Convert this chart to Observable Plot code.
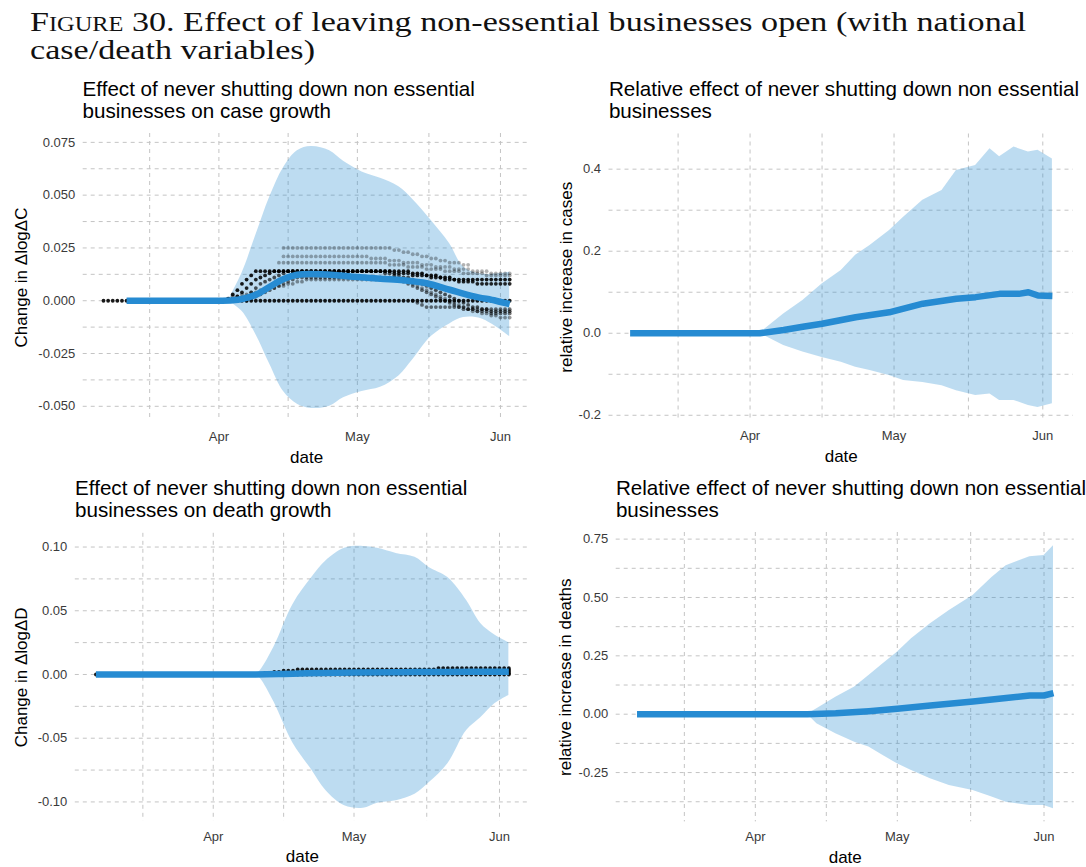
<!DOCTYPE html>
<html><head><meta charset="utf-8">
<script src="https://cdn.jsdelivr.net/npm/d3@7"></script>
<script src="https://cdn.jsdelivr.net/npm/@observablehq/plot@0.6"></script>
<style>
html,body{margin:0;padding:0;background:#fff;}
body{width:1086px;height:867px;overflow:hidden;position:relative;font-family:"Liberation Sans",Arial,sans-serif;}
#figtitle{position:absolute;left:30px;top:7.6px;font-family:"Liberation Serif",serif;font-size:28px;line-height:28px;color:#111;white-space:nowrap;transform:scaleX(1.218);transform-origin:0 0;}
.ptitle{position:absolute;font-size:20.6px;line-height:22.3px;color:#000;white-space:nowrap;}
.panel{position:absolute;}
</style></head><body>
<div id="figtitle"><span style="font-variant:small-caps">Figure 30.</span> Effect of leaving non-essential businesses open (with national<br>case/death variables)</div>
<div class="ptitle" style="left:82.6px;top:77.5px">Effect of never shutting down non essential<br>businesses on case growth</div>
<div class="ptitle" style="left:608.9px;top:77.5px">Relative effect of never shutting down non essential<br>businesses</div>
<div class="ptitle" style="left:75.1px;top:476.5px">Effect of never shutting down non essential<br>businesses on death growth</div>
<div class="ptitle" style="left:615.9px;top:476.5px">Relative effect of never shutting down non essential<br>businesses</div>
<script>
// ---------- axis breaks ----------
const majorDates = ["2020-04-01", "2020-05-01", "2020-06-01"];
const minorDates = ["2020-03-17T00:00:00Z", "2020-04-16T00:00:00Z", "2020-05-16T12:00:00Z"];
const dataStart = "2020-03-07";
const dataEnd = "2020-06-03";

const yTicks1 = [-0.05, -0.025, 0, 0.025, 0.05, 0.075];
const yMinor1 = [-0.0375, -0.0125, 0.0125, 0.0375, 0.0625];
const yTicks2 = [-0.2, 0, 0.2, 0.4];
const yMinor2 = [-0.1, 0.1, 0.3];
const yTicks3 = [-0.1, -0.05, 0, 0.05, 0.1];
const yMinor3 = [-0.075, -0.025, 0.025, 0.075];
const yTicks4 = [-0.25, 0, 0.25, 0.5, 0.75];
const yMinor4 = [-0.375, -0.125, 0.125, 0.375, 0.625];

// ---------- panel 1: case growth ----------
const band1Dates = ["2020-04-03","2020-04-06","2020-04-09","2020-04-12","2020-04-15","2020-04-18","2020-04-21","2020-04-25","2020-04-28","2020-05-02","2020-05-06","2020-05-10","2020-05-13","2020-05-17","2020-05-21","2020-05-24","2020-05-28","2020-06-03"];
const upper1 = [0.000, 0.013, 0.031, 0.049, 0.063, 0.071, 0.073, 0.071, 0.066, 0.061, 0.058, 0.054, 0.048, 0.038, 0.027, 0.016, 0.0126, 0.0135];
const lower1 = [0.000, -0.005, -0.016, -0.030, -0.043, -0.049, -0.051, -0.050, -0.046, -0.043, -0.041, -0.0356, -0.028, -0.017, -0.011, -0.008, -0.0087, -0.017];
const mean1Dates = ["2020-03-12","2020-04-01","2020-04-04","2020-04-06","2020-04-09","2020-04-12","2020-04-15","2020-04-18","2020-04-21","2020-04-26","2020-05-01","2020-05-06","2020-05-11","2020-05-16","2020-05-21","2020-05-26","2020-05-31","2020-06-03"];
const mean1 = [0, 0, 0.0002, 0.0008, 0.0028, 0.0066, 0.0103, 0.0123, 0.0127, 0.0122, 0.0112, 0.0104, 0.0097, 0.0083, 0.0052, 0.0022, 0.0000, -0.0016];

// daily simulated trajectories (one value per day from the start date)
const zeroTrack = [0,0,0,0,0,0,0,0,0,0,0,0,0,0,0,0,0,0,0,0,0,0,0,0,0,0,0,0,0,0,0,0,0,0,0,0,0,0,0,0,0,0,0,0,0,0,0,0,0,0,0,0,0,0,0,0,0,0,0,0,0,0,0,0,0,0,0,0,0,0,0,0,0,0,0,0,0,0,0,0,0,0,0,0,0,0,0,0,0];
const trackA = [0.000,0.001,0.003,0.005,0.008,0.010,0.012,0.014,
0.014,0.014,0.014,0.014,0.014,0.014,0.014,0.014,
0.014,0.014,0.014,0.014,0.014,0.014,0.014,0.014,
0.014,0.014,0.014,0.014,0.014,0.014,0.014,0.014,
0.014,0.014,0.014,0.014,0.014,0.014,0.014,0.014,
0.014,0.013,0.013,0.013,0.012,0.012,0.012,0.011,
0.011,0.011,0.010,0.010,0.010,0.010,0.010,0.010,
0.010,0.010,0.010,0.010,0.010,0.010,0.010];
const trackB = [0.001,0.002,0.004,0.006,0.008,0.010,0.011,0.012,
0.013,0.014,0.014,0.014,0.014,0.014,0.014,0.014,
0.014,0.014,0.014,0.014,0.014,0.014,0.014,0.014,
0.014,0.014,0.014,0.014,0.014,0.014,0.014,0.014,
0.014,0.014,0.014,0.013,0.013,0.013,0.013,0.012,
0.012,0.012,0.012,0.011,0.011,0.011,0.010,0.010,
0.010,0.009,0.009,0.009,0.009,0.008,0.008,0.008,
0.008,0.008,0.008,0.008,0.008];
const trackC = [0.001,0.002,0.004,0.006,0.008,0.009,0.010,0.011,
0.012,0.013,0.014,0.014,0.014,0.014,0.014,0.014,
0.014,0.014,0.014,0.014,0.014,0.014,0.014,0.014,
0.014,0.014,0.014,0.014,0.014,0.014,0.014,0.013,
0.013,0.012,0.012,0.011,0.011,0.010,0.009,0.008,
0.007,0.006,0.005,0.004,0.003,0.002,0.001,0.000,
-0.001,-0.002,-0.003,-0.003,-0.004,-0.004,-0.005,-0.005,
-0.005,-0.005,-0.005];
const trackD = [0.000,0.001,0.002,0.003,0.004,0.005,0.006,0.007,
0.008,0.009,0.010,0.011,0.011,0.011,0.011,0.011,
0.011,0.011,0.011,0.011,0.011,0.011,0.011,0.011,
0.011,0.011,0.011,0.011,0.011,0.011,0.011,0.011,
0.011,0.010,0.009,0.008,0.007,0.006,0.005,0.004,
0.003,0.002,0.001,0.000,-0.001,-0.002,-0.003,-0.003,
-0.004,-0.004,-0.005,-0.005,-0.005,-0.006,-0.006,-0.006,
-0.006,-0.006];
const trackE = [0.025,0.025,0.025,0.025,0.025,0.025,0.025,0.025,
0.025,0.025,0.025,0.025,0.025,0.025,0.025,0.025,
0.025,0.025,0.025,0.025,0.025,0.025,0.025,0.025,
0.024,0.024,0.023,0.023,0.022,0.022,0.021,0.021,
0.020,0.020,0.019,0.019,0.018,0.018,0.018,0.017,
0.017];
const trackF = [0.021,0.021,0.021,0.021,0.021,0.021,0.021,0.021,
0.021,0.021,0.021,0.021,0.021,0.021,0.021,0.021,
0.021,0.021,0.021,0.020,0.020,0.020,0.020,0.019,
0.019,0.019,0.018,0.018,0.018,0.018,0.017,0.017,
0.017,0.016,0.016,0.016,0.016,0.015,0.015,0.015,
0.015,0.014,0.014,0.014,0.014,0.013,0.013,0.013,
0.013,0.013];
const trackG = [0.018,0.018,0.018,0.018,0.018,0.018,0.018,0.018,
0.018,0.018,0.018,0.018,0.018,0.018,0.018,0.018,
0.018,0.018,0.018,0.018,0.018,0.018,0.018,0.018,
0.017,0.017,0.017,0.017,0.016,0.016,0.016,0.016,
0.015,0.015,0.015,0.015,0.014,0.014,0.014,0.014,
0.013,0.013,0.013,0.013,0.013,0.012,0.012,0.012,
0.012,0.012,0.012];
const trackH = [0.001,0.002,0.002,0.003,0.003,0.004,0.004,0.005,
0.005,0.006,0.006,0.007,0.007,0.008,0.008,0.009,
0.009,0.010,0.010,0.010,0.010,0.010,0.010,0.010,
0.010,0.010,0.010,0.010,0.010,0.010,0.010,0.010,
0.010,0.010,0.010,0.010,0.010,0.010,0.010,0.009,
0.008,0.007,0.006,0.005,0.004,0.003,0.002,0.001,
0.000,-0.001,-0.002,-0.003,-0.004,-0.005,-0.005,-0.006,
-0.006,-0.007,-0.007,-0.008,-0.008,-0.008];
const trackI = [0.000,-0.001,-0.002,-0.003,-0.003,-0.003,-0.003,-0.003,
-0.003,-0.003,-0.003,-0.004,-0.004,-0.004,-0.004,-0.004,
-0.004,-0.004,-0.004,-0.004,-0.004,-0.004];

const tracks1 = [
  {start: "2020-03-07", values: zeroTrack, opacity: 0.9},
  {start: "2020-04-02", values: trackA, opacity: 0.9},
  {start: "2020-04-04", values: trackB, opacity: 0.85},
  {start: "2020-04-06", values: trackC, opacity: 0.65},
  {start: "2020-04-07", values: trackD, opacity: 0.55},
  {start: "2020-04-15", values: trackE, opacity: 0.3},
  {start: "2020-04-15", values: trackF, opacity: 0.3},
  {start: "2020-04-14", values: trackG, opacity: 0.33},
  {start: "2020-04-03", values: trackH, opacity: 0.4},
  {start: "2020-05-13", values: trackI, opacity: 0.55}
];

// ---------- panel 2: relative increase in cases ----------
const band2Dates = ["2020-04-03","2020-04-08","2020-04-12","2020-04-16","2020-04-20","2020-04-23","2020-04-26","2020-04-30","2020-05-03","2020-05-07","2020-05-11","2020-05-14","2020-05-18","2020-05-21","2020-05-23","2020-05-26","2020-05-29","2020-05-31","2020-06-03"];
const upper2 = [0.000, 0.047, 0.080, 0.120, 0.153, 0.190, 0.214, 0.250, 0.283, 0.324, 0.348, 0.397, 0.409, 0.450, 0.430, 0.454, 0.442, 0.446, 0.425];
const lower2 = [0.000, -0.030, -0.046, -0.059, -0.071, -0.083, -0.091, -0.103, -0.115, -0.120, -0.128, -0.140, -0.152, -0.148, -0.164, -0.164, -0.176, -0.181, -0.172];
const mean2Dates = ["2020-03-07","2020-04-03","2020-04-08","2020-04-12","2020-04-16","2020-04-23","2020-04-30","2020-05-07","2020-05-14","2020-05-18","2020-05-23","2020-05-27","2020-05-29","2020-05-31","2020-06-03"];
const mean2 = [0, 0, 0.008, 0.016, 0.023, 0.039, 0.051, 0.072, 0.084, 0.088, 0.096, 0.096, 0.100, 0.092, 0.091];

// ---------- panel 3: death growth ----------
const band3Dates = ["2020-04-10","2020-04-11","2020-04-14","2020-04-18","2020-04-22","2020-04-25","2020-04-29","2020-05-03","2020-05-06","2020-05-10","2020-05-14","2020-05-17","2020-05-21","2020-05-25","2020-05-28","2020-05-31","2020-06-03"];
const upper3 = [0.000, 0.003, 0.022, 0.055, 0.076, 0.089, 0.099, 0.1005, 0.099, 0.095, 0.092, 0.084, 0.076, 0.058, 0.040, 0.031, 0.025];
const lower3 = [0.000, -0.003, -0.022, -0.054, -0.075, -0.091, -0.103, -0.105, -0.101, -0.099, -0.094, -0.085, -0.070, -0.044, -0.034, -0.023, -0.0165];
const mean3Dates = ["2020-03-07","2020-04-10","2020-04-16","2020-04-21","2020-05-01","2020-05-11","2020-05-21","2020-06-03"];
const mean3 = [0, 0, 0.0004, 0.0009, 0.0015, 0.0018, 0.0020, 0.0022];
const trackU3 = [0.000,0.001,0.001,0.002,0.002,0.003,0.003,0.003,
0.004,0.004,0.004,0.004,0.004,0.004,0.004,0.004,
0.004,0.004,0.004,0.004,0.004,0.004,0.004,0.004,
0.004,0.004,0.004,0.004,0.004,0.004,0.004,0.004,
0.004,0.004,0.004,0.004,0.004,0.004,0.005,0.005,
0.005,0.005,0.005,0.005,0.005,0.005,0.005,0.005,
0.005,0.005,0.005,0.005,0.005,0.005];
const lastDay3 = [0.001, 0.002, 0.003, 0.004];
const tracks3 = [
  {start: "2020-03-07", values: zeroTrack, opacity: 0.9},
  {start: "2020-04-11", values: trackU3, opacity: 0.9},
  {start: "2020-06-03", values: lastDay3, opacity: 0.9, sameDay: true}
];

// ---------- panel 4: relative increase in deaths ----------
const band4Dates = ["2020-04-12","2020-04-14","2020-04-18","2020-04-22","2020-04-25","2020-04-28","2020-05-01","2020-05-04","2020-05-08","2020-05-12","2020-05-17","2020-05-21","2020-05-24","2020-05-29","2020-06-01","2020-06-03"];
const upper4 = [0.000, 0.023, 0.073, 0.116, 0.166, 0.216, 0.265, 0.323, 0.387, 0.444, 0.508, 0.586, 0.636, 0.675, 0.680, 0.722];
const lower4 = [0.000, -0.041, -0.084, -0.120, -0.141, -0.177, -0.212, -0.241, -0.276, -0.305, -0.327, -0.355, -0.377, -0.391, -0.391, -0.405];
const mean4Dates = ["2020-03-07","2020-04-12","2020-04-18","2020-04-25","2020-05-01","2020-05-08","2020-05-17","2020-05-24","2020-05-29","2020-06-01","2020-06-03"];
const mean4 = [0, 0, 0.004, 0.013, 0.023, 0.037, 0.054, 0.069, 0.080, 0.080, 0.090];

// ---------- helpers ----------
const BLUE = "#268bd2";
const GRID = "#c4c4c4";
const toDate = s => new Date(s.length === 10 ? s + "T00:00:00Z" : s);
const bandRows = (dates, lo, hi) => dates.map((d, i) => ({date: toDate(d), lo: lo[i], hi: hi[i]}));
const lineRows = (dates, v) => dates.map((d, i) => ({date: toDate(d), v: v[i]}));
const trackRows = (t) => t.values.map((v, i) => ({date: t.sameDay ? toDate(t.start) : d3.utcDay.offset(toDate(t.start), i), v}));

function xDomainPadded() {
  const a = toDate(dataStart), b = toDate(dataEnd);
  const pad = (b - a) * 0.05;
  return [new Date(+a - pad), new Date(+b + pad)];
}
function yDomainPadded(lo, hi) {
  const mn = d3.min(lo), mx = d3.max(hi);
  const pad = (mx - mn) * 0.05;
  return [mn - pad, mx + pad];
}

function panel(cfg) {
  const {left, top, width, height, x0, x1, y0, y1} = cfg;
  const marks = [
    Plot.ruleX([...majorDates, ...minorDates].map(toDate), {stroke: GRID, strokeDasharray: "4,4", strokeWidth: 1}),
    Plot.ruleY([...cfg.yTicks, ...cfg.yMinor], {stroke: GRID, strokeDasharray: "4,4", strokeWidth: 1}),
    Plot.areaY(cfg.band, {x: "date", y1: "lo", y2: "hi", fill: BLUE, fillOpacity: 0.3, curve: cfg.curve})
  ];
  for (const t of (cfg.tracks || [])) {
    marks.push(Plot.dot(trackRows(t), {x: "date", y: "v", r: 1.9, fill: "#000", fillOpacity: t.opacity}));
  }
  marks.push(
    Plot.line(cfg.mean, {x: "date", y: "v", stroke: BLUE, strokeWidth: 6.5, strokeLinecap: "butt", curve: cfg.curve}),
    Plot.axisX({ticks: majorDates.map(toDate), tickFormat: d3.utcFormat("%b"), tickSize: 0, tickPadding: 10, label: null}),
    Plot.axisY({ticks: cfg.yTicks, tickFormat: d => d.toFixed(cfg.digits), tickSize: 0, tickPadding: 8, label: null}),
    Plot.text(["date"], {frameAnchor: "bottom", textAnchor: "middle", dy: 41, lineAnchor: "bottom", fontSize: 17, fill: "#000"}),
    Plot.text([cfg.ylabel], {frameAnchor: "left", textAnchor: "middle", lineAnchor: "middle", rotate: -90, dx: cfg.ylabelX - x0, fontSize: 17, fill: "#000"})
  );
  const svg = Plot.plot({
    width, height,
    marginLeft: x0 - left, marginRight: left + width - x1,
    marginTop: y0 - top, marginBottom: top + height - y1,
    style: {fontFamily: "'Liberation Sans', Arial, sans-serif", fontSize: "13px", color: "#3a3a3a", background: "transparent", overflow: "visible"},
    x: {type: "utc", domain: xDomainPadded()},
    y: {domain: yDomainPadded(cfg.lowerVals, cfg.upperVals)},
    marks
  });
  svg.classList.add("panel");
  svg.style.left = left + "px";
  svg.style.top = top + "px";
  document.body.appendChild(svg);
}

panel({left: 0, top: 125, width: 540, height: 345, x0: 82.7, x1: 529.5, y0: 133, y1: 421,
  band: bandRows(band1Dates, lower1, upper1), lowerVals: lower1, upperVals: upper1,
  mean: lineRows(mean1Dates, mean1), tracks: tracks1, curve: "catmull-rom",
  yTicks: yTicks1, yMinor: yMinor1, digits: 3, ylabel: "Change in \u0394log\u0394C", ylabelX: 21});
panel({left: 540, top: 125, width: 546, height: 345, x0: 608.5, x1: 1073, y0: 133.5, y1: 420,
  band: bandRows(band2Dates, lower2, upper2), lowerVals: lower2, upperVals: upper2,
  mean: lineRows(mean2Dates, mean2), curve: "linear",
  yTicks: yTicks2, yMinor: yMinor2, digits: 1, ylabel: "relative increase in cases", ylabelX: 565.6});
panel({left: 0, top: 525, width: 540, height: 342, x0: 74.8, x1: 529, y0: 532.8, y1: 820.9,
  band: bandRows(band3Dates, lower3, upper3), lowerVals: lower3, upperVals: upper3,
  mean: lineRows(mean3Dates, mean3), tracks: tracks3, curve: "catmull-rom",
  yTicks: yTicks3, yMinor: yMinor3, digits: 2, ylabel: "Change in \u0394log\u0394D", ylabelX: 21});
panel({left: 540, top: 525, width: 546, height: 342, x0: 615.7, x1: 1073.8, y0: 532, y1: 821.4,
  band: bandRows(band4Dates, lower4, upper4), lowerVals: lower4, upperVals: upper4,
  mean: lineRows(mean4Dates, mean4), curve: "linear",
  yTicks: yTicks4, yMinor: yMinor4, digits: 2, ylabel: "relative increase in deaths", ylabelX: 565});
</script>
</body></html>
